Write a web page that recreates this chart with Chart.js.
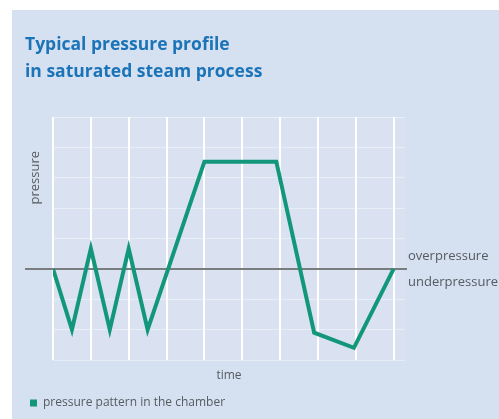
<!DOCTYPE html>
<html>
<head>
<meta charset="utf-8">
<script src="https://cdn.jsdelivr.net/npm/chart.js@4"></script>
<style>
  html, body { margin: 0; padding: 0; background: #ffffff; }
  #wrap { position: absolute; left: 12px; top: 10px; width: 487px; height: 409px; background: #d5e0f0; }
</style>
</head>
<body>
<div id="wrap"><canvas id="myChart" width="487" height="409"></canvas></div>
<script>
// time steps (grid columns) and pressure relative to atmospheric (grid rows)
const timeSteps = [0, 0.5, 1, 1.5, 2, 2.5, 4, 5.9, 6.9, 7.95, 9];
const pressure = [0, -2.0, 0.67, -2.0, 0.67, -2.0, 3.53, 3.53, -2.1, -2.6, 0];

const titleLines = ['Typical pressure profile', 'in saturated steam process'];
const seriesLabel = 'pressure pattern in the chamber';
const yLabel = 'pressure';
const xLabel = 'time';
const upperLabel = 'overpressure';
const lowerLabel = 'underpressure';

const green = '#13977a';
const textGrey = '#555b60';

// zero line, side labels and the rotated pressure label
const annotations = {
  id: 'annotations',
  beforeDraw(chart) {
    const { ctx, chartArea } = chart;
    ctx.save();
    ctx.fillStyle = '#dae2f1';
    ctx.fillRect(chartArea.left, chartArea.top, chartArea.right - chartArea.left, chartArea.bottom - chartArea.top);
    ctx.restore();
  },
  beforeDatasetsDraw(chart) {
    const { ctx, chartArea, scales } = chart;
    const y0 = scales.y.getPixelForValue(0);
    ctx.save();
    ctx.strokeStyle = '#7a7d80';
    ctx.lineWidth = 2;
    ctx.beginPath();
    ctx.moveTo(chartArea.left - 28, y0);
    ctx.lineTo(chartArea.right + 2, y0);
    ctx.stroke();

    ctx.fillStyle = textGrey;
    ctx.font = '13px "Open Sans"';
    ctx.textBaseline = 'middle';
    ctx.textAlign = 'left';
    ctx.fillText(upperLabel, chartArea.right + 3, y0 - 13);
    ctx.fillText(lowerLabel, chartArea.right + 3, y0 + 13);

    ctx.translate(chartArea.left - 18, scales.y.getPixelForValue(3));
    ctx.rotate(-Math.PI / 2);
    ctx.textAlign = 'center';
    ctx.fillText(yLabel, 0, 0);
    ctx.restore();
  }
};

const ctx = document.getElementById('myChart').getContext('2d');
const myChart = new Chart(ctx, {
  type: 'line',
  data: {
    datasets: [{
      label: seriesLabel,
      data: timeSteps.map((t, i) => ({ x: t, y: pressure[i] })),
      borderColor: green,
      backgroundColor: green,
      borderWidth: 4,
      borderJoinStyle: 'miter',
      pointRadius: 0,
      fill: false,
      tension: 0
    }]
  },
  options: {
    responsive: false,
    animation: false,
    layout: { padding: { left: 13, right: 94, top: 0, bottom: 0 } },
    scales: {
      x: {
        type: 'linear',
        min: 0,
        max: 9.3,
        afterBuildTicks: (scale) => {
          scale.ticks = [0, 1, 2, 3, 4, 5, 6, 7, 8, 9].map(v => ({ value: v }));
        },
        ticks: { display: false },
        grid: { color: '#ffffff', lineWidth: 2, drawTicks: false },
        border: { display: false },
        title: {
          display: true,
          text: xLabel,
          color: textGrey,
          font: { family: 'Open Sans', size: 12 },
          padding: { top: 8, bottom: 9.6 }
        }
      },
      y: {
        min: -3,
        max: 5,
        ticks: { display: false, stepSize: 1 },
        grid: { color: 'rgba(255,255,255,0.4)', lineWidth: 1, drawTicks: false },
        border: { display: false },
        afterFit: (scale) => { scale.width = 28; }
      }
    },
    plugins: {
      title: {
        display: true,
        text: titleLines,
        align: 'start',
        color: '#1c74b8',
        font: { family: 'Open Sans', size: 17.5, weight: 'bold', lineHeight: '27px' },
        padding: { top: 21.5, bottom: 31.5 }
      },
      legend: {
        position: 'bottom',
        align: 'start',
        labels: {
          boxWidth: 7,
          boxHeight: 7,
          padding: 5,
          color: textGrey,
          font: { family: 'Open Sans', size: 12 },
          generateLabels: (chart) => Chart.defaults.plugins.legend.labels.generateLabels(chart)
            .map(item => Object.assign(item, { lineWidth: 0 }))
        }
      },
      tooltip: { enabled: false }
    }
  },
  plugins: [annotations]
});
</script>
</body>
</html>
